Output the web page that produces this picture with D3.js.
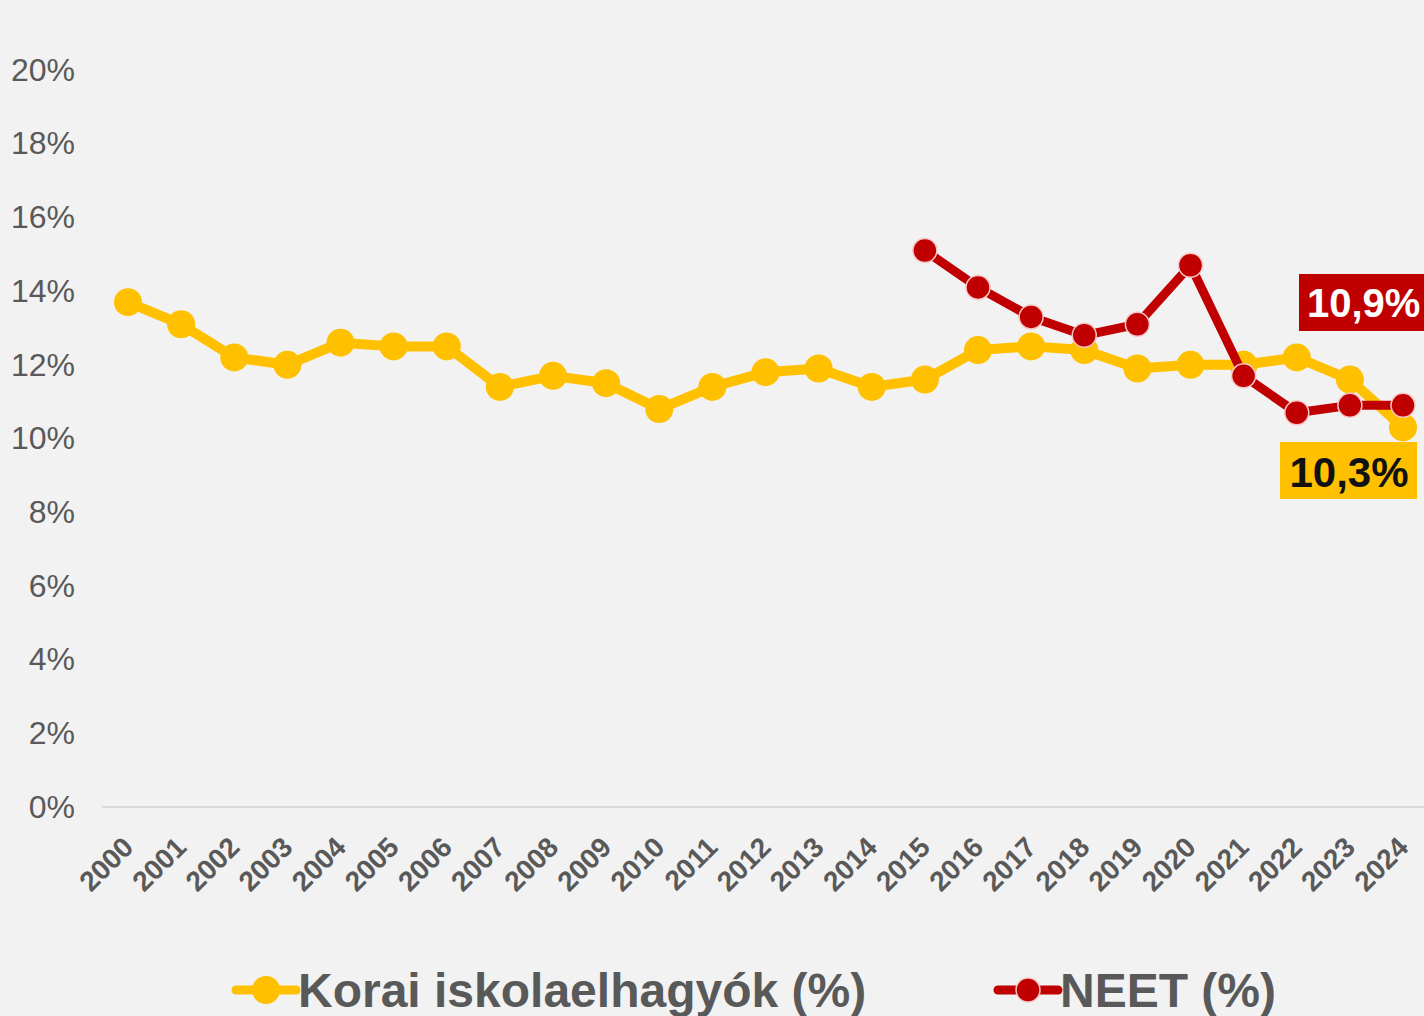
<!DOCTYPE html>
<html>
<head>
<meta charset="utf-8">
<script src="https://cdn.jsdelivr.net/npm/d3@7"></script>
<style>
  html, body { margin: 0; padding: 0; background: #f2f2f2; }
  svg { display: block; font-family: Arial, "Liberation Sans", sans-serif; }
</style>
</head>
<body>
<script>
//chart data
var years = [2000, 2001, 2002, 2003, 2004, 2005, 2006, 2007, 2008, 2009, 2010, 2011, 2012,
             2013, 2014, 2015, 2016, 2017, 2018, 2019, 2020, 2021, 2022, 2023, 2024];
var earlyLeavers = [13.7, 13.1, 12.2, 12.0, 12.6, 12.5, 12.5, 11.4, 11.7, 11.5, 10.8, 11.4, 11.8,
                    11.9, 11.4, 11.6, 12.4, 12.5, 12.4, 11.9, 12.0, 12.0, 12.2, 11.6, 10.3];
var neetYears = [2015, 2016, 2017, 2018, 2019, 2020, 2021, 2022, 2023, 2024];
var neet = [15.1, 14.1, 13.3, 12.8, 13.1, 14.7, 11.7, 10.7, 10.9, 10.9];
var yTicks = [0, 2, 4, 6, 8, 10, 12, 14, 16, 18, 20];
var seriesNames = ['Korai iskolaelhagyók (%)', 'NEET (%)'];

window.onload = drawChart();

function drawChart(){
    var width = 1424,
        height = 1016;

    var svg = d3.select('body')
        .append('svg')
        .attr('width', width)
        .attr('height', height);

    svg.append('rect')
        .attr('width', width)
        .attr('height', height)
        .attr('fill', '#f2f2f2');

    var x = d3.scalePoint()
        .domain(years)
        .range([128, 1403]);

    var y = d3.scaleLinear()
        .domain([0, 20])
        .range([807, 70]);

    //y axis labels, no line
    var yAxis = svg.append('g')
        .attr('transform', 'translate(75,0)')
        .call(d3.axisLeft(y).tickValues(yTicks).tickSize(0).tickPadding(0)
            .tickFormat(function(d){ return d + '%'; }));
    yAxis.select('.domain').remove();
    yAxis.selectAll('text')
        .attr('fill', '#595959')
        .style('font-size', '32px')
        .style('font-family', 'Arial, "Liberation Sans", sans-serif');

    //x axis baseline
    svg.append('line')
        .attr('x1', 102).attr('x2', width)
        .attr('y1', y(0)).attr('y2', y(0))
        .attr('stroke', '#d9d9d9')
        .attr('stroke-width', 2);

    //rotated year labels
    svg.append('g')
        .selectAll('text')
        .data(years)
        .enter()
        .append('text')
        .attr('transform', function(d){
            return 'translate(' + x(d) + ',' + 842 + ') rotate(-45)';
        })
        .attr('text-anchor', 'end')
        .attr('dy', '0.35em')
        .attr('fill', '#595959')
        .style('font-size', '28px')
        .style('font-weight', 'bold')
        .text(function(d){ return d; });

    var line = d3.line()
        .x(function(d){ return x(d[0]); })
        .y(function(d){ return y(d[1]); });

    var yellowData = years.map(function(d, i){ return [d, earlyLeavers[i]]; });
    var redData = neetYears.map(function(d, i){ return [d, neet[i]]; });

    //yellow series
    svg.append('path')
        .datum(yellowData)
        .attr('d', line)
        .attr('fill', 'none')
        .attr('stroke', '#ffc000')
        .attr('stroke-width', 10)
        .attr('stroke-linejoin', 'round');

    svg.append('g')
        .selectAll('circle')
        .data(yellowData)
        .enter()
        .append('circle')
        .attr('cx', function(d){ return x(d[0]); })
        .attr('cy', function(d){ return y(d[1]); })
        .attr('r', 14)
        .attr('fill', '#ffc000');

    //red series
    svg.append('path')
        .datum(redData)
        .attr('d', line)
        .attr('fill', 'none')
        .attr('stroke', '#c00000')
        .attr('stroke-width', 9)
        .attr('stroke-linejoin', 'round');

    svg.append('g')
        .selectAll('circle')
        .data(redData)
        .enter()
        .append('circle')
        .attr('cx', function(d){ return x(d[0]); })
        .attr('cy', function(d){ return y(d[1]); })
        .attr('r', 12)
        .attr('fill', '#c00000')
        .attr('stroke', '#f7c6c6')
        .attr('stroke-width', 1.5);

    //end value labels
    var lastNeet = neet[neet.length - 1];
    var lastYellow = earlyLeavers[earlyLeavers.length - 1];

    svg.append('rect')
        .attr('x', 1299).attr('y', 274)
        .attr('width', 130).attr('height', 57)
        .attr('fill', '#c00000');
    svg.append('text')
        .attr('x', 1307).attr('y', 317)
        .attr('fill', '#ffffff')
        .style('font-size', '40px')
        .style('font-weight', 'bold')
        .text(String(lastNeet).replace('.', ',') + '%');

    svg.append('rect')
        .attr('x', 1280).attr('y', 442)
        .attr('width', 137).attr('height', 57)
        .attr('fill', '#ffc000');
    svg.append('text')
        .attr('x', 1349).attr('y', 487)
        .attr('text-anchor', 'middle')
        .attr('fill', '#111111')
        .style('font-size', '42px')
        .style('font-weight', 'bold')
        .text(String(lastYellow).replace('.', ',') + '%');

    //legend
    var legend = [
        {name: seriesNames[0], color: '#ffc000', x: 236, r: 14, stroke: 'none'},
        {name: seriesNames[1], color: '#c00000', x: 998, r: 12, stroke: '#f7c6c6'}
    ];
    var lg = svg.append('g')
        .selectAll('g')
        .data(legend)
        .enter()
        .append('g')
        .attr('transform', function(d){ return 'translate(' + d.x + ',990)'; });

    lg.append('line')
        .attr('x1', 0).attr('x2', 60)
        .attr('stroke', function(d){ return d.color; })
        .attr('stroke-width', 9)
        .attr('stroke-linecap', 'round');
    lg.append('circle')
        .attr('cx', 30)
        .attr('r', function(d){ return d.r; })
        .attr('fill', function(d){ return d.color; })
        .attr('stroke', function(d){ return d.stroke; })
        .attr('stroke-width', 1.5);
    lg.append('text')
        .attr('x', 62)
        .attr('dy', '0.35em')
        .attr('fill', '#595959')
        .style('font-size', '48px')
        .style('font-weight', 'bold')
        .text(function(d){ return d.name; });
}
</script>
</body>
</html>
